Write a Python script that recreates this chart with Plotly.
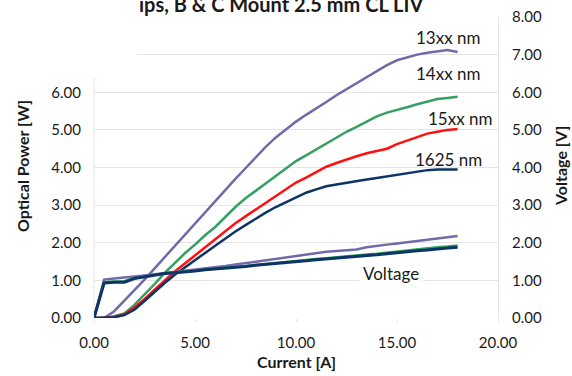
import plotly.graph_objects as go

current = [0, 0.5, 1, 1.5, 2, 2.5, 3, 3.5, 4, 4.5, 5, 5.5, 6, 6.5, 7, 7.5, 8, 8.5, 9,
           9.5, 10, 10.5, 11, 11.5, 12, 12.5, 13, 13.5, 14, 14.5, 15, 15.5, 16, 16.5, 17, 17.5, 18]

p_13xx = [0, 0, 0.18, 0.45, 0.74, 1.02, 1.32, 1.6, 1.9, 2.2, 2.5, 2.8, 3.1, 3.4, 3.7, 3.98, 4.28, 4.55, 4.8,
          5.02, 5.22, 5.4, 5.56, 5.74, 5.92, 6.08, 6.22, 6.38, 6.55, 6.72, 6.85, 6.93, 7.0, 7.05, 7.09, 7.12, 7.07]
p_14xx = [0, 0, 0.05, 0.12, 0.35, 0.62, 0.9, 1.2, 1.47, 1.72, 1.95, 2.2, 2.42, 2.68, 2.95, 3.18, 3.38, 3.56, 3.78,
          3.98, 4.17, 4.32, 4.48, 4.65, 4.8, 4.95, 5.08, 5.23, 5.36, 5.46, 5.52, 5.6, 5.68, 5.76, 5.82, 5.85, 5.88]
p_15xx = [0, 0, 0.03, 0.1, 0.28, 0.5, 0.75, 1.0, 1.24, 1.45, 1.66, 1.87, 2.08, 2.3, 2.52, 2.7, 2.88, 3.06, 3.25,
          3.42, 3.6, 3.73, 3.88, 4.02, 4.12, 4.22, 4.3, 4.38, 4.45, 4.5, 4.62, 4.72, 4.82, 4.9, 4.95, 5.0, 5.02]
p_1625 = [0, 0, 0.02, 0.08, 0.22, 0.45, 0.7, 0.93, 1.15, 1.35, 1.55, 1.73, 1.92, 2.12, 2.3, 2.47, 2.64, 2.8, 2.95,
          3.08, 3.22, 3.33, 3.42, 3.5, 3.55, 3.6, 3.64, 3.68, 3.72, 3.76, 3.8, 3.85, 3.9, 3.93, 3.95, 3.95, 3.95]

v_13xx = [0, 1.02, 1.05, 1.07, 1.1, 1.13, 1.16, 1.19, 1.22, 1.25, 1.29, 1.32, 1.35, 1.38, 1.42, 1.46, 1.5, 1.53, 1.57,
          1.61, 1.65, 1.69, 1.73, 1.76, 1.78, 1.8, 1.82, 1.88, 1.92, 1.95, 1.98, 2.01, 2.05, 2.08, 2.12, 2.15, 2.18]
v_14xx = [0, 0.95, 0.97, 0.98, 1.06, 1.11, 1.15, 1.19, 1.21, 1.23, 1.26, 1.29, 1.31, 1.34, 1.36, 1.38, 1.41, 1.43, 1.46,
          1.49, 1.52, 1.54, 1.57, 1.59, 1.62, 1.64, 1.66, 1.69, 1.71, 1.74, 1.77, 1.79, 1.82, 1.85, 1.88, 1.9, 1.93]
v_1625 = [0, 0.93, 0.95, 0.95, 1.05, 1.1, 1.14, 1.18, 1.2, 1.22, 1.25, 1.28, 1.3, 1.33, 1.35, 1.37, 1.4, 1.42, 1.44,
          1.47, 1.5, 1.52, 1.55, 1.57, 1.6, 1.62, 1.64, 1.66, 1.68, 1.71, 1.74, 1.76, 1.79, 1.81, 1.84, 1.86, 1.88]

power_ticks = [0, 1, 2, 3, 4, 5, 6]
voltage_ticks = [0, 1, 2, 3, 4, 5, 6, 7, 8]
current_ticks = [0, 5, 10, 15, 20]

PURPLE = "#716aa9"
GREEN = "#35a061"
RED = "#ff1010"
NAVY = "#0c3566"
FONT = "Lato, Open Sans, sans-serif"

W, H = 572, 376
L, R, T, B = 94, 74, 17, 58
PH = H - T - B
PW = W - L - R

def py(ypx):
    return (H - B - ypx) / PH

def px(xpx):
    return (xpx - L) / PW

fig = go.Figure()

for vals, col, wd in [(v_13xx, PURPLE, 2.5), (v_14xx, GREEN, 2.5), (v_1625, NAVY, 3)]:
    fig.add_trace(go.Scatter(x=current, y=vals, yaxis="y2", mode="lines",
                             line=dict(color=col, width=wd), showlegend=False))

for vals, col in [(p_13xx, PURPLE), (p_14xx, GREEN), (p_15xx, RED), (p_1625, NAVY)]:
    fig.add_trace(go.Scatter(x=current, y=vals, mode="lines",
                             line=dict(color=col, width=2.5), showlegend=False))

grid = "#e4e4e4"
fig.update_layout(
    width=W, height=H,
    margin=dict(l=L, r=R, t=T, b=B, autoexpand=False),
    paper_bgcolor="white", plot_bgcolor="white",
    font=dict(family=FONT, size=15, color="#1a1a1a"),
    xaxis=dict(range=[0, 20], tickvals=current_ticks,
               ticktext=[f"{v:.2f}" for v in current_ticks],
               showgrid=False, zeroline=False, showline=False,
               ticks="outside", ticklen=3, tickcolor=grid, ticklabelstandoff=8),
    yaxis=dict(range=[0, 8], tickvals=power_ticks,
               ticktext=[f"{v:.2f}" for v in power_ticks],
               showgrid=False, zeroline=False, showline=False, ticks="",
               ticklabelstandoff=12),
    yaxis2=dict(range=[0, 8], tickvals=voltage_ticks,
                ticktext=[f"{v:.2f}" for v in voltage_ticks],
                overlaying="y", side="right", showgrid=True, gridcolor=grid,
                gridwidth=1, zeroline=False, showline=True, linecolor=grid,
                ticks="", ticklabelstandoff=10),
)

fig.add_shape(type="line", xref="paper", yref="paper", x0=0, x1=0, y0=0, y1=py(75),
              line=dict(color=grid, width=1), layer="below")
fig.add_shape(type="rect", xref="paper", yref="paper", x0=px(0), x1=px(137), y0=py(78), y1=py(0),
              fillcolor="white", line=dict(width=0), layer="above")

ann = []
ann.append(dict(text="<b>ips, B & C Mount 2.5 mm CL LIV</b>", x=px(137), y=py(4),
                xanchor="left", yanchor="middle", font=dict(size=20, family=FONT, color="#1a1a1a")))
ann.append(dict(text="<b>Optical Power [W]</b>", x=px(22), y=py(166), textangle=-90,
                xanchor="center", yanchor="middle", font=dict(size=16, family=FONT)))
ann.append(dict(text="<b>Voltage [V]</b>", x=px(560), y=py(166), textangle=-90,
                xanchor="center", yanchor="middle", font=dict(size=16, family=FONT)))
ann.append(dict(text="<b>Current [A]</b>", x=px(296), y=py(361),
                xanchor="center", yanchor="middle", font=dict(size=16, family=FONT)))
for txt, xx, yy in [("13xx nm", 448, 37), ("14xx nm", 448, 73), ("15xx nm", 460, 118), ("1625 nm", 448, 159)]:
    ann.append(dict(text=txt, x=px(xx), y=py(yy), xanchor="center", yanchor="middle",
                    font=dict(size=17, family=FONT)))
ann.append(dict(text="Voltage", x=px(391), y=py(273), xanchor="center", yanchor="middle",
                bgcolor="white", borderpad=3, font=dict(size=17, family=FONT)))
for a in ann:
    a.update(xref="paper", yref="paper", showarrow=False)
fig.update_layout(annotations=ann)

fig.write_html("out.html", config={"displayModeBar": False},
               post_script="document.body.style.margin='0px';document.body.style.overflow='hidden';")
